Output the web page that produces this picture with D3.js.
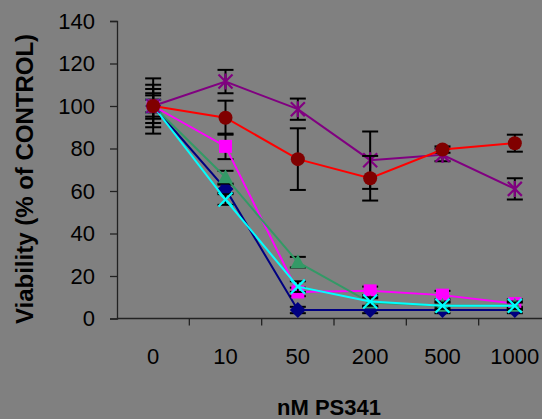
<!DOCTYPE html>
<html>
<head>
<meta charset="utf-8">
<script src="https://cdn.jsdelivr.net/npm/d3@7"></script>
<style>
  html, body { margin: 0; padding: 0; background: #808080; }
  svg { display: block; font-family: "Liberation Sans", Arial, sans-serif; }
</style>
</head>
<body>
<svg></svg>
<script>
const width = 542
const height = 419

// categories on the x axis
const doses = ["0", "10", "50", "200", "500", "1000"]
const yTicks = [0, 20, 40, 60, 80, 100, 120, 140]

// viability values (% of control) and error bar half-widths per series
const navyVals = [100, 61, 4, 4, 4, 4]
const navyErr = [3, 2, 1.5, 1.5, 1.5, 1.5]
const magentaVals = [100, 81, 12.5, 13, 11, 7]
const magentaErr = [6, 6, 2, 2, 2, 2]
const greenVals = [100, 66.5, 26.5, 7.5, 6, 6]
const greenErr = [8, 3, 2.5, 2, 2, 2]
const cyanVals = [100, 56, 15, 8, 6, 6]
const cyanErr = [5, 2.5, 2.5, 2, 1.5, 1.5]
const purpleVals = [100, 111.5, 98.5, 74.5, 77, 61]
const purpleErr = [13, 5.5, 5, 13.5, 3, 5]
const redVals = [100, 94.5, 75, 66, 79.5, 82.5]
const redErr = [10, 8, 14.5, 10.5, 1.5, 4]

const series = [
  { name: "navy", values: navyVals, err: navyErr, line: "#000080", fill: "#000080", shape: "diamond" },
  { name: "magenta", values: magentaVals, err: magentaErr, line: "#ff00ff", fill: "#ff00ff", shape: "square" },
  { name: "green", values: greenVals, err: greenErr, line: "#339966", fill: "#339966", shape: "triangle" },
  { name: "cyan", values: cyanVals, err: cyanErr, line: "#00ffff", fill: "#00ffff", shape: "x" },
  { name: "purple", values: purpleVals, err: purpleErr, line: "#800080", fill: "#800080", shape: "star" },
  { name: "red", values: redVals, err: redErr, line: "#ff0000", fill: "#800000", shape: "circle" }
]

const svg = d3.select("svg")
  .attr("width", width)
  .attr("height", height)

svg.append("rect")
  .attr("width", width)
  .attr("height", height)
  .attr("fill", "#808080")

const x = d3.scaleBand()
  .domain(doses)
  .range([117, 551])

const y = d3.scaleLinear()
  .domain([0, 140])
  .range([318.5, 21])

const cx = d => x(d) + x.bandwidth() / 2

// y axis
const yAxis = svg.append("g")
  .attr("transform", "translate(117,0)")
  .call(d3.axisLeft(y).tickValues(yTicks).tickSize(7).tickPadding(15))
yAxis.select(".domain").attr("stroke", "#222").attr("stroke-width", 1.3)
yAxis.selectAll(".tick line").attr("stroke", "#222").attr("stroke-width", 1.3)
yAxis.selectAll("text")
  .attr("fill", "#000")
  .style("font-size", "22px")

// x axis: ticks between categories
const xAxis = svg.append("g")
  .attr("transform", "translate(0," + y(0) + ")")
xAxis.append("line")
  .attr("x1", 117).attr("x2", width)
  .attr("stroke", "#222").attr("stroke-width", 1.3)
xAxis.selectAll("line.tk")
  .data(doses.slice(1))
  .enter().append("line")
    .attr("class", "tk")
    .attr("x1", d => x(d)).attr("x2", d => x(d))
    .attr("y1", 0).attr("y2", 7)
    .attr("stroke", "#222").attr("stroke-width", 1.3)
xAxis.selectAll("text")
  .data(doses)
  .enter().append("text")
    .attr("x", d => cx(d))
    .attr("y", 45)
    .attr("text-anchor", "middle")
    .style("font-size", "22px")
    .attr("fill", "#000")
    .text(d => d)

// axis titles
svg.append("text")
  .attr("x", 329)
  .attr("y", 415)
  .attr("text-anchor", "middle")
  .style("font-size", "22px")
  .style("font-weight", "bold")
  .text("nM PS341")

svg.append("text")
  .attr("transform", "translate(33,179) rotate(-90)")
  .attr("text-anchor", "middle")
  .style("font-size", "24px")
  .style("font-weight", "bold")
  .text("Viability (% of CONTROL)")

const line = d3.line()
  .x((d, i) => cx(doses[i]))
  .y(d => y(d))

const plot = svg.append("g")

function marker(g, shape, fill, stroke) {
  if (shape === "circle") {
    g.append("circle").attr("r", 7).attr("fill", fill)
  } else if (shape === "square") {
    g.append("rect").attr("x", -6.5).attr("y", -6.5).attr("width", 13).attr("height", 13).attr("fill", fill)
  } else if (shape === "diamond") {
    g.append("path").attr("d", "M0,-8L8,0L0,8L-8,0Z").attr("fill", fill)
  } else if (shape === "triangle") {
    g.append("path").attr("d", "M0,-8L7.5,6L-7.5,6Z").attr("fill", fill)
  } else if (shape === "x") {
    g.append("path").attr("d", "M-7,-7L7,7M-7,7L7,-7").attr("stroke", stroke).attr("stroke-width", 2.2)
  } else if (shape === "star") {
    g.append("path").attr("d", "M-7,-7L7,7M-7,7L7,-7M0,-8L0,8").attr("stroke", stroke).attr("stroke-width", 2.2)
  }
}

series.forEach(s => {
  const g = plot.append("g").attr("class", s.name)
  // error bars
  s.values.forEach((v, i) => {
    const px = cx(doses[i])
    const top = y(v + s.err[i]), bot = y(v - s.err[i])
    g.append("line").attr("x1", px).attr("x2", px).attr("y1", top).attr("y2", bot)
      .attr("stroke", "#000").attr("stroke-width", 2)
    ;[top, bot].forEach(py => {
      g.append("line").attr("x1", px - 8).attr("x2", px + 8).attr("y1", py).attr("y2", py)
        .attr("stroke", "#000").attr("stroke-width", 2)
    })
  })
  g.append("path")
    .datum(s.values)
    .attr("d", line)
    .attr("fill", "none")
    .attr("stroke", s.line)
    .attr("stroke-width", 2)
  s.values.forEach((v, i) => {
    const m = g.append("g").attr("transform", "translate(" + cx(doses[i]) + "," + y(v) + ")")
    marker(m, s.shape, s.fill, s.line)
  })
})
</script>
</body>
</html>
